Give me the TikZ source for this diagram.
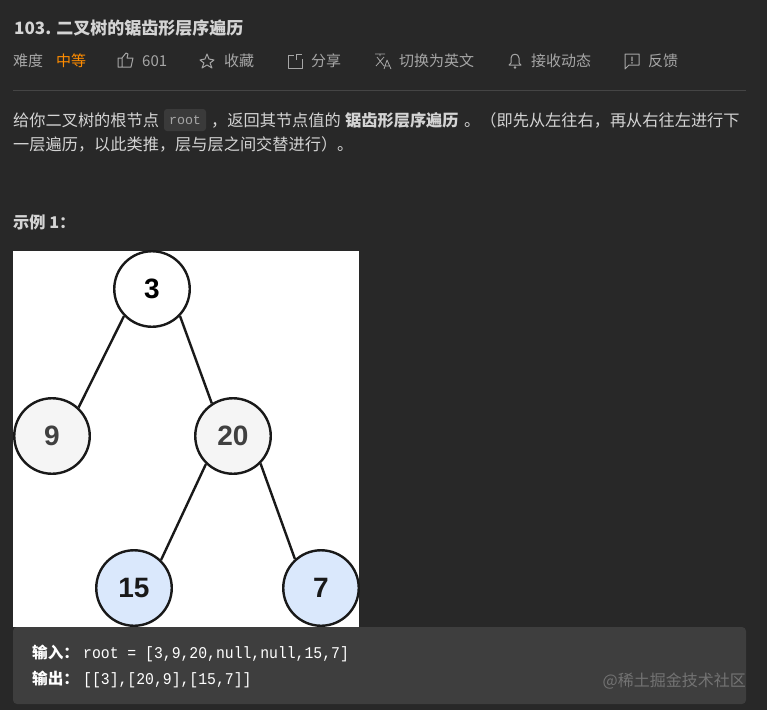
\documentclass[tikz,border=0pt]{standalone}
\usepackage{fontspec}
\setmainfont{Noto Sans CJK SC}
\newfontfamily\treefont{Liberation Sans}
\setmonofont{Liberation Mono}
\newfontfamily\codefont[FakeStretch=0.9]{Liberation Mono}
\definecolor{pagebg}{HTML}{282828}
\definecolor{codebg}{HTML}{3E3E3E}
\definecolor{chipbg}{HTML}{3A3A3A}
\definecolor{bodytxt}{HTML}{D4D4D4}
\definecolor{metatxt}{HTML}{A6A6A6}
\definecolor{leafblue}{HTML}{DAE8FC}
\tikzset{
    line/.style={anchor=base west,inner sep=0pt,text=bodytxt,font=\fontsize{16.2}{18}\selectfont},
    meta/.style={anchor=base west,inner sep=0pt,text=metatxt,font=\fontsize{15}{18}\selectfont},
    icon/.style={draw=metatxt,line width=1pt,line join=round},
    tree/.style={circle,draw=black!90,line width=2.4pt,minimum size=75.5pt,inner sep=0pt,text=black,font=\treefont\bfseries\fontsize{28}{30}\selectfont},
    edge/.style={draw=black!90,line width=2.4pt},
    code/.style={anchor=base west,inner sep=0pt,text=white,font=\codefont\fontsize{16.4}{18}\selectfont},
    codelabel/.style={anchor=base west,inner sep=0pt,text=white,font=\bfseries\fontsize{15.6}{18}\selectfont},
}
\begin{document}
\begin{tikzpicture}[x=1pt,y=-1pt]
    \fill[pagebg] (0,0) rectangle (767,710);
    \useasboundingbox (0,0) rectangle (767,710);
    % header
    \node[line,font=\bfseries\fontsize{17}{18}\selectfont] (title) at (14,34) {103. 二叉树的锯齿形层序遍历};
    \node[meta] (level) at (13,66) {难度};
    \node[meta,text=orange!90!yellow] (medium) at (56,66) {中等};
    \draw[icon] (118,67) -- (118,58) -- (122,58) -- (122,67) -- cycle (122,58) -- (126,53) -- (128,54) -- (127,58) -- (133,58) -- (131,67) -- (122,67);
    \node[meta] (likes) at (142,66) {601};
    \draw[icon] (207,54) -- (209,59) -- (214,60) -- (210,63) -- (212,68) -- (207,65) -- (202,68) -- (204,63) -- (200,60) -- (205,59) -- cycle;
    \node[meta] (fav) at (224,66) {收藏};
    \draw[icon] (294,55) -- (288,55) -- (288,68) -- (302,68) -- (302,59) (296,60) -- (296,54) -- (302,54);
    \node[meta] (share) at (311,66) {分享};
    \draw[icon,line width=.8pt] (375,54) -- (385,54) (380,54) -- (380,56) (377,57) -- (384,66) (384,57) -- (376,66) (384,69) -- (387,60) -- (391,69) (385,66) -- (390,66);
    \node[meta] (english) at (399,66) {切换为英文};
    \node[meta] (follow) at (531,66) {接收动态};
    \draw[icon] (509,65) -- (511,63) -- (511,58) .. controls (511,53) and (519,53) .. (519,58) -- (519,63) -- (521,65) -- cycle;
    \fill[metatxt] (515,67.5) circle (1.3);
    \draw[icon] (625,54) -- (639,54) -- (639,65) -- (629,65) -- (625,69) -- cycle;
    \fill[metatxt] (631.3,56.5) rectangle (632.7,61) (631.3,62) rectangle (632.7,63.5);
    \node[meta] (feedback) at (648,66) {反馈};
    \draw[white!27!black,line width=.8pt] (13,90) -- (746,90);
    % description
    \node[line] (descA) at (13,126) {给你二叉树的根节点};
    \fill[chipbg,rounded corners=3pt] (164,109) rectangle (206,131);
    \node[anchor=base,inner sep=0pt,text=metatxt,font=\ttfamily\fontsize{13.3}{14}\selectfont] (root) at (185,124.5) {root};
    \node[line] (descB) at (211,126) {，返回其节点值的};
    \node[line,font=\bfseries\fontsize{16.2}{18}\selectfont] (descC) at (345,126) {锯齿形层序遍历};
    \node[line] (descD) at (464,126) {。（即先从左往右，再从右往左进行下};
    \node[line] (descE) at (13,150) {一层遍历，以此类推，层与层之间交替进行）。};
    \node[line,font=\bfseries\fontsize{16.2}{18}\selectfont] (example) at (13,228) {示例 1：};
    % tree
    \fill[white] (13,251) rectangle (359,627);
    \node[tree,fill=white] (n3) at (152,289) {3};
    \node[tree,fill=black!4,text=black!75] (n9) at (52,436) {9};
    \node[tree,fill=black!4,text=black!75] (n20) at (233,436) {20};
    \node[tree,fill=leafblue,text=black!90] (n15) at (134,588) {15};
    \node[tree,fill=leafblue,text=black!90] (n7) at (321,588) {7};
    \draw[edge] (n3.224) -- (n9.47);
    \draw[edge] (n3.316) -- (n20.123);
    \draw[edge] (n20.226) -- (n15.46);
    \draw[edge] (n20.315) -- (n7.132);
    % code box
    \fill[codebg,rounded corners=4pt] (13,627) rectangle (746,704);
    \node[codelabel] (inlabel) at (32,658) {输入：};
    \node[code] (input) at (83,658) {root = [3,9,20,null,null,15,7]};
    \node[codelabel] (outlabel) at (32,684) {输出：};
    \node[code] (output) at (83,684) {[[3],[20,9],[15,7]]};
    \node[anchor=base east,inner sep=0pt,text=white!45!black,font=\fontsize{16}{18}\selectfont] (mark) at (746,686) {@稀土掘金技术社区};
\end{tikzpicture}
\end{document}
